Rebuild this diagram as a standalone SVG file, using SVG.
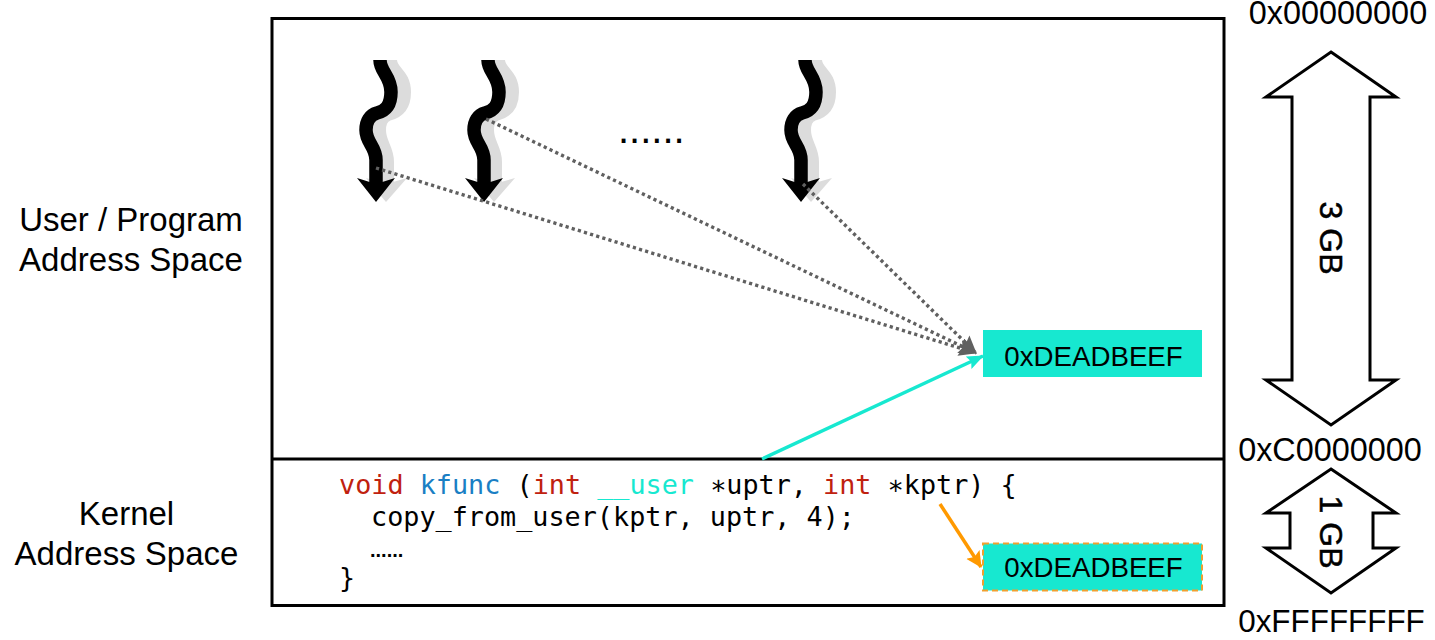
<svg xmlns="http://www.w3.org/2000/svg" width="1435" height="640" viewBox="0 0 1435 640">
<style>
.t{font-family:"Liberation Sans",Arial,sans-serif;font-size:33px;fill:#000}
.v{font-size:32px;stroke:#000;stroke-width:.5}
.a{font-size:32.4px}
.f{font-size:31.4px}
.b{font-size:27.7px}
.d{font-size:40px}
.dk{font-size:20px;font-weight:bold}
.m{font-family:"DejaVu Sans Mono",monospace;font-size:26.8px;fill:#000;white-space:pre}
.box{fill:none;stroke:#000;stroke-width:3}
.dot{fill:none;stroke:#606060;stroke-width:3.4;stroke-dasharray:3.2 3.2}
.big{fill:#fff;stroke:#000;stroke-width:3}
.kw{fill:#c0210f}.fn{fill:#1a7fc4}.us{fill:#17e8d0}
.shs{fill:none;stroke:#dcdcdc;stroke-width:14}
.sqs{fill:none;stroke:#000;stroke-width:13.500}
</style>
<defs>
<marker id="ag" markerUnits="userSpaceOnUse" markerWidth="20" markerHeight="18" refX="17" refY="8" orient="auto"><path d="M0 0L18 8L0 16L3 8Z" fill="#606060"/></marker>
<marker id="ac" markerUnits="userSpaceOnUse" markerWidth="20" markerHeight="16" refX="16" refY="7" orient="auto"><path d="M0 0L17 7L0 14L3 7Z" fill="#17e8d0"/></marker>
<marker id="ao" markerUnits="userSpaceOnUse" markerWidth="20" markerHeight="18" refX="15" refY="8" orient="auto"><path d="M0 0L16 8L0 16L3 8Z" fill="#ff9900"/></marker>
<g id="sq">
<path class="shs" d="M390 60C390 72 404 74 404 92C404 108 396 112 388 114C382 116 379 122 379 130C379 144 387 148 387 162L387 185"/>
<path d="M366 178L386 184L407 178L386 202Z" fill="#dcdcdc"/>
<path class="sqs" d="M380 60C380 72 391 76 391 92C391 106 385 111 377 113C370 115 366 121 366 130C366 143 376 146 376 160L376 185"/>
<path d="M357 178L376 184L395 178L376 202Z" fill="#000"/>
</g>
</defs>
<g id="space-box"><rect class="box" x="272" y="18.500" width="952" height="587"/><path class="box" d="M272 459H1224"/></g>
<g id="thread-1"><use href="#sq"/></g>
<g id="thread-2"><use href="#sq" x="108"/></g>
<g id="thread-3"><use href="#sq" x="425"/></g>
<g id="connectors">
<path class="dot" marker-end="url(#ag)" d="M376 168L976 353"/>
<path class="dot" marker-end="url(#ag)" d="M486 119L976 353"/>
<path class="dot" marker-end="url(#ag)" d="M803 184L976 353"/>
<path d="M762 459L983 356" fill="none" stroke="#17e8d0" stroke-width="3.500" marker-end="url(#ac)"/>
<path d="M940 504L981 567" fill="none" stroke="#ff9900" stroke-width="3.500" marker-end="url(#ao)"/>
</g>
<g id="addr-user"><rect x="983" y="330" width="219" height="47" fill="#17e8d0"/><text class="t b" x="1093.500" y="366" text-anchor="middle">0xDEADBEEF</text></g>
<g id="addr-kernel"><rect x="983" y="543.500" width="219" height="47" fill="#17e8d0" stroke="#f0a030" stroke-width="2" stroke-dasharray="6 4"/><text class="t b" x="1093.500" y="577" text-anchor="middle">0xDEADBEEF</text></g>
<g id="labels">
<text class="t" x="131" y="231" text-anchor="middle">User / Program</text>
<text class="t" x="131" y="271" text-anchor="middle">Address Space</text>
<text class="t" x="126.500" y="525" text-anchor="middle">Kernel</text>
<text class="t" x="126.500" y="565" text-anchor="middle">Address Space</text>
<text class="t d" x="618" y="143">......</text>
<text class="t a" x="1338" y="24" text-anchor="middle">0x00000000</text>
<text class="t a" x="1330" y="461" text-anchor="middle">0xC0000000</text>
<text class="t f" x="1331.500" y="632" text-anchor="middle">0xFFFFFFFF</text>
</g>
<g id="code">
<text class="m" x="339" y="494"><tspan class="kw">void</tspan> <tspan class="fn">kfunc</tspan> (<tspan class="kw">int</tspan> <tspan class="us">__user</tspan> ∗uptr, <tspan class="kw">int</tspan> ∗kptr) {</text>
<text class="m" x="371" y="526">copy_from_user(kptr, uptr, 4);</text>
<text class="t dk" x="370" y="557">......</text>
<text class="m" x="339" y="587">}</text>
</g>
<g id="span-3gb"><path class="big" d="M1331 52L1396 97H1370V380H1396L1331 425L1266 380H1292V97H1266Z"/><text class="t v" transform="translate(1320 238) rotate(90)" text-anchor="middle">3 GB</text></g>
<g id="span-1gb"><path class="big" d="M1331 469L1396 513H1373V548H1396L1331 593L1266 548H1290V513H1266Z"/><text class="t v" transform="translate(1320 532) rotate(90)" text-anchor="middle">1 GB</text></g>
</svg>
